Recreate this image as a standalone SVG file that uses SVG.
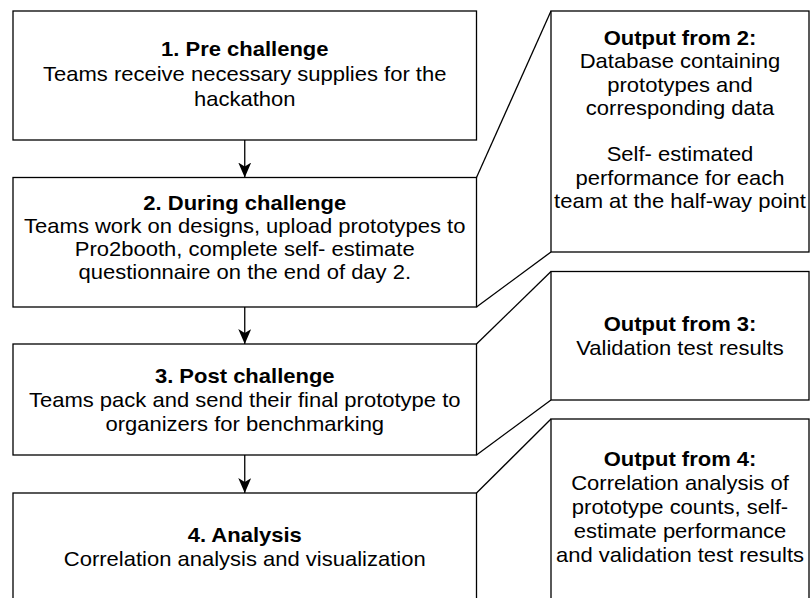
<svg xmlns="http://www.w3.org/2000/svg" width="810" height="598" viewBox="0 0 810 598">
  <style>
    .box { fill: #ffffff; stroke: #000000; stroke-width: 1.3; }
    .link { fill: none; stroke: #000000; stroke-width: 1.3; }
    .lbl { font-family: "Liberation Sans", Arial, Helvetica, sans-serif; font-size: 20px; fill: #000000; text-anchor: middle; }
    .ttl { font-weight: bold; }
  </style>
  <defs>
    <marker id="arrow" viewBox="0 0 15 13" refX="15" refY="6.5" markerWidth="15" markerHeight="13" markerUnits="userSpaceOnUse" orient="auto">
      <path d="M0,0 L15,6.5 L0,13 L4,6.5 Z" fill="#000000"/>
    </marker>
  </defs>
  <rect width="810" height="598" fill="#ffffff"/>

  <!-- flow steps and connectors -->
  <g id="connectors">
    <line class="link" x1="244.75" y1="140" x2="244.75" y2="177.5" marker-end="url(#arrow)"/>
    <line class="link" x1="244.75" y1="307" x2="244.75" y2="344" marker-end="url(#arrow)"/>
    <line class="link" x1="244.75" y1="455" x2="244.75" y2="493" marker-end="url(#arrow)"/>
    <line class="link" x1="476.5" y1="177.5" x2="551" y2="11"/>
    <line class="link" x1="476.5" y1="307" x2="551" y2="252"/>
    <line class="link" x1="476.5" y1="344" x2="551" y2="271.5"/>
    <line class="link" x1="476.5" y1="455" x2="551" y2="400"/>
    <line class="link" x1="476.5" y1="493" x2="551" y2="419"/>
  </g>

  <g id="step1">
    <rect class="box" x="13" y="11" width="463.5" height="129"/>
    <g transform="translate(244.75 0) scale(1.1 1)">
      <text class="lbl" y="56"><tspan class="ttl" x="0">1. Pre challenge</tspan><tspan x="0" dy="25">Teams receive necessary supplies for the</tspan><tspan x="0" dy="25">hackathon</tspan></text>
    </g>
  </g>

  <g id="step2">
    <rect class="box" x="13" y="177.5" width="463.5" height="129.5"/>
    <g transform="translate(244.75 0) scale(1.1 1)">
      <text class="lbl" y="210"><tspan class="ttl" x="0">2. During challenge</tspan><tspan x="0" dy="23">Teams work on designs, upload prototypes to</tspan><tspan x="0" dy="23">Pro2booth, complete self- estimate</tspan><tspan x="0" dy="23">questionnaire on the end of day 2.</tspan></text>
    </g>
  </g>

  <g id="step3">
    <rect class="box" x="13" y="344" width="463.5" height="111"/>
    <g transform="translate(244.75 0) scale(1.1 1)">
      <text class="lbl" y="383"><tspan class="ttl" x="0">3. Post challenge</tspan><tspan x="0" dy="24">Teams pack and send their final prototype to</tspan><tspan x="0" dy="24">organizers for benchmarking</tspan></text>
    </g>
  </g>

  <g id="step4">
    <rect class="box" x="13" y="493" width="463.5" height="111"/>
    <g transform="translate(244.75 0) scale(1.1 1)">
      <text class="lbl" y="542"><tspan class="ttl" x="0">4. Analysis</tspan><tspan x="0" dy="24">Correlation analysis and visualization</tspan></text>
    </g>
  </g>

  <!-- outputs of each step -->
  <g id="output2">
    <rect class="box" x="551" y="11" width="258" height="241"/>
    <g transform="translate(680 0) scale(1.1 1)">
      <text class="lbl" y="45"><tspan class="ttl" x="0">Output from 2:</tspan><tspan x="0" dy="23.3">Database containing</tspan><tspan x="0" dy="23.3">prototypes and</tspan><tspan x="0" dy="23.3">corresponding data</tspan><tspan x="0" dy="46.6">Self- estimated</tspan><tspan x="0" dy="23.3">performance for each</tspan><tspan x="0" dy="23.3">team at the half-way point</tspan></text>
    </g>
  </g>

  <g id="output3">
    <rect class="box" x="551" y="271.5" width="258" height="128.5"/>
    <g transform="translate(680 0) scale(1.1 1)">
      <text class="lbl" y="331"><tspan class="ttl" x="0">Output from 3:</tspan><tspan x="0" dy="24">Validation test results</tspan></text>
    </g>
  </g>

  <g id="output4">
    <rect class="box" x="551" y="419" width="258" height="182"/>
    <g transform="translate(680 0) scale(1.1 1)">
      <text class="lbl" y="466"><tspan class="ttl" x="0">Output from 4:</tspan><tspan x="0" dy="24">Correlation analysis of</tspan><tspan x="0" dy="24">prototype counts, self-</tspan><tspan x="0" dy="24">estimate performance</tspan><tspan x="0" dy="24">and validation test results</tspan></text>
    </g>
  </g>
</svg>
